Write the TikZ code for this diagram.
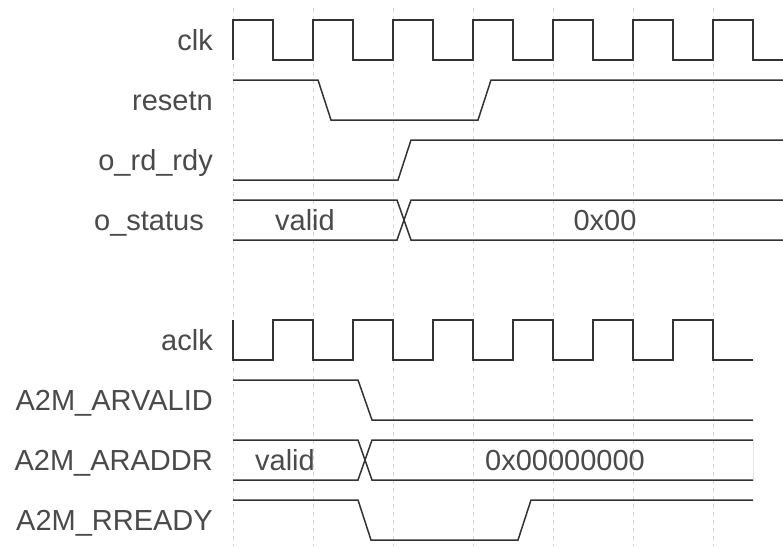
\documentclass[tikz,border=0pt]{standalone}
\usepackage{fontspec}
\setmainfont{Liberation Sans}
\definecolor{wavec}{HTML}{333333}
\definecolor{txtc}{HTML}{4A4A4A}
\definecolor{gridc}{HTML}{D6D6D6}

\begin{document}
\begin{tikzpicture}[x=1pt,y=-1pt,
  wave/.style={draw=wavec,line width=1.5pt},
  gridln/.style={draw=gridc,line width=1pt,dash pattern=on 4pt off 4pt},
  lbl/.style={anchor=base east,inner sep=0pt,text=txtc,font=\fontsize{29}{31}\selectfont},
  val/.style={anchor=base,inner sep=0pt,text=txtc,font=\fontsize{29}{31}\selectfont}]
\clip (0,0) rectangle (783,546);
\fill[white] (0,0) rectangle (783,546);
% grid
\foreach \t in {233,313,...,713}
  \draw[gridln] (\t,8) -- (\t,546);
% labels
\node[lbl] (lclk) at (213,50) {clk};
\node[lbl] (lrst) at (213,110) {resetn};
\node[lbl] (lrdy) at (213,170) {o\_rd\_rdy};
\node[lbl] (lsts) at (204,230) {o\_status};
\node[lbl] (laclk) at (213,350) {aclk};
\node[lbl] (larv) at (213,410) {A2M\_ARVALID};
\node[lbl] (lara) at (213,470) {A2M\_ARADDR};
\node[lbl] (lrr) at (213,530) {A2M\_RREADY};
% clk
\draw[wave] (233,60) \foreach \t in {233,313,...,713} {-- (\t,20) -- (\t+40,20) -- (\t+40,60) -- (\t+80,60)};
% resetn
\draw[wave] (233,80) -- (318,80) -- (331,120) -- (478,120) -- (491,80) -- (783,80);
% o_rd_rdy
\draw[wave] (233,180) -- (398,180) -- (411,140) -- (783,140);
% o_status
\draw[wave] (233,200) -- (397,200) -- (411,240) -- (783,240);
\draw[wave] (233,240) -- (397,240) -- (411,200) -- (783,200);
\node[val] (vsts1) at (305,230) {valid};
\node[val] (vsts2) at (605,230) {0x00};
% aclk
\draw[wave] (233,320) \foreach \t in {233,313,...,633} {-- (\t,360) -- (\t+40,360) -- (\t+40,320) -- (\t+80,320)} -- (713,360) -- (753,360);
% A2M_ARVALID
\draw[wave] (233,380) -- (358,380) -- (372,420) -- (753,420);
% A2M_ARADDR
\draw[wave] (233,440) -- (358,440) -- (372,480) -- (753,480);
\draw[wave] (233,480) -- (358,480) -- (372,440) -- (753,440);
\draw[gridc!60,line width=0.6pt] (753,440) -- (753,480);
\node[val] (vara1) at (285,470) {valid};
\node[val] (vara2) at (565,470) {0x00000000};
% A2M_RREADY
\draw[wave] (233,500) -- (358,500) -- (371,540) -- (518,540) -- (531,500) -- (753,500);
\end{tikzpicture}
\end{document}
